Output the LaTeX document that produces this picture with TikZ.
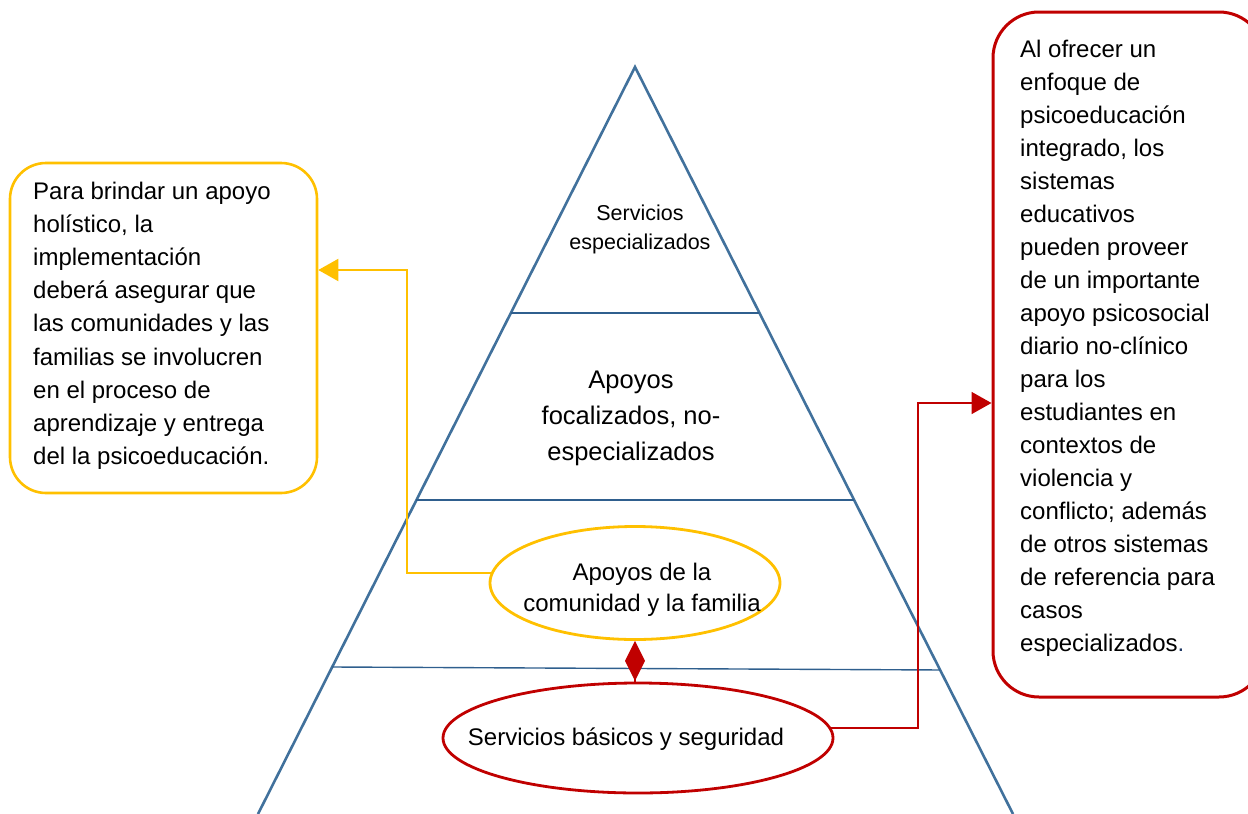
\documentclass[tikz,border=0pt]{standalone}
\usepackage{fontspec}
\setmainfont{Liberation Sans}
\usetikzlibrary{shapes.geometric,arrows.meta,calc}
\definecolor{pyrblue}{HTML}{41719C}
\definecolor{linblue}{HTML}{2F5F8E}
\definecolor{ambar}{HTML}{FFC000}
\definecolor{rojo}{HTML}{C00000}
\definecolor{punto}{HTML}{1F3864}
\begin{document}
\begin{tikzpicture}[x=1pt,y=-1pt,
  pyrside/.style={draw=pyrblue,line width=2.6pt},
  tierline/.style={draw=linblue,line width=1.4pt},
  yboxst/.style={draw=ambar,line width=2.6pt,rounded corners=36pt,rectangle,inner sep=0pt},
  rboxst/.style={draw=rojo,line width=3pt,rounded corners=46pt,rectangle,inner sep=0pt},
  yoval/.style={draw=ambar,line width=2.8pt,ellipse,inner sep=0pt},
  roval/.style={draw=rojo,line width=2.8pt,ellipse,inner sep=0pt},
  boxtext/.style={align=left,inner sep=0pt,anchor=north west,font=\fontsize{24}{33.2}\selectfont},
  tiertext/.style={align=center,inner sep=0pt},
  yconn/.style={draw=ambar,line width=2pt,-{Triangle[length=20pt,width=22pt]}},
  rconn/.style={draw=rojo,line width=1.8pt,-{Triangle[length=20pt,width=22pt]}},
  dconn/.style={draw=rojo,line width=1.6pt,-{Diamond[length=40pt,width=20pt]}},
]
\useasboundingbox (0,0) rectangle (1248,814);
% pyramid
\coordinate (apex) at (635,67);
\coordinate (bl) at (258,814);
\coordinate (br) at (1013,814);
\draw[pyrside] (bl) -- (apex) -- (br);
\draw[tierline] ($(apex)!0.3293!(bl)$) -- ($(apex)!0.3293!(br)$);
\draw[tierline] ($(apex)!0.5797!(bl)$) -- ($(apex)!0.5797!(br)$);
\draw[tierline] ($(apex)!0.8032!(bl)$) -- ($(apex)!0.8072!(br)$);
% boxes
\node[yboxst,minimum width=307pt,minimum height=330pt] (lbox) at (163.5,328) {};
\node[rboxst,minimum width=272pt,minimum height=685pt] (rbx) at (1129,354.5) {};
\node[boxtext] (ltext) at (33,181.5) {Para brindar un apoyo\\holístico, la\\implementación\\deberá asegurar que\\las comunidades y las\\familias se involucren\\en el proceso de\\aprendizaje y entrega\\del la psicoeducación.};
\node[boxtext,font=\fontsize{24}{33.0}\selectfont] (rtext) at (1020,39.5) {Al ofrecer un\\enfoque de\\psicoeducación\\integrado, los\\sistemas\\educativos\\pueden proveer\\de un importante\\apoyo psicosocial\\diario no-clínico\\para los\\estudiantes en\\contextos de\\violencia y\\conflicto; además\\de otros sistemas\\de referencia para\\casos\\especializados{\color{punto}.}};
% ellipses
\node[yoval,minimum width=290pt,minimum height=113pt] (yell) at (635,583) {};
\node[roval,minimum width=390pt,minimum height=110pt] (rell) at (638,738) {};
% tier labels
\node[tiertext,font=\fontsize{21.5}{29}\selectfont] (t1) at (640,229) {Servicios\\especializados};
\node[tiertext,font=\fontsize{25.5}{36}\selectfont] (t2) at (631,418) {Apoyos\\focalizados, no-\\especializados};
\node[tiertext,font=\fontsize{24}{31}\selectfont] (t3) at (642,590) {Apoyos de la\\comunidad y la familia};
\node[tiertext,font=\fontsize{24}{30}\selectfont] (t4) at (626,739) {Servicios básicos y seguridad};
% connectors
\draw[yconn] (yell.176.8) -- ++(-84,0) |- ([yshift=58pt]lbox.east);
\draw[rconn] (rell.3.9) -- ++(87,0) |- ([yshift=-48.5pt]rbx.west);
\draw[dconn] (rell.north -| yell.south) -- (yell.south);
\end{tikzpicture}
\end{document}
